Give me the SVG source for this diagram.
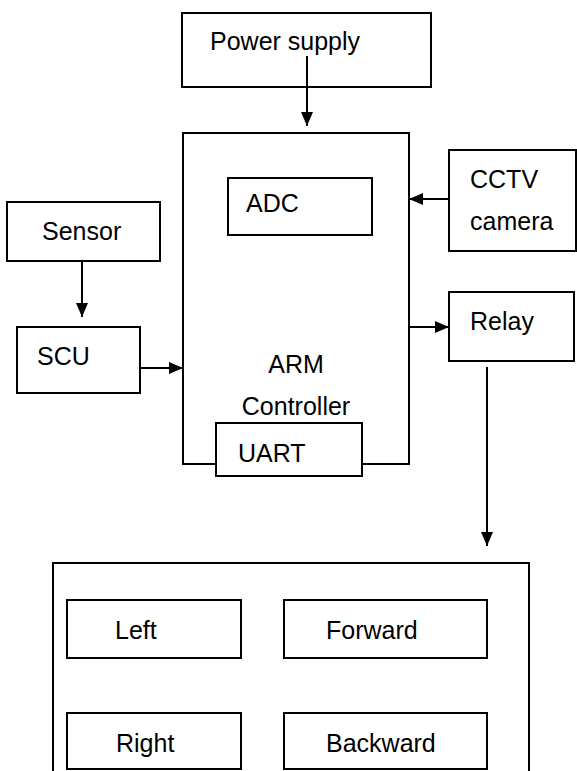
<svg xmlns="http://www.w3.org/2000/svg" width="577" height="771" viewBox="0 0 577 771">
<style>
.b{fill:#fff;stroke:#000;stroke-width:2}
.t{font-family:"Liberation Sans",Arial,sans-serif;font-size:25px;fill:#000}
.c{stroke:#000;stroke-width:2;fill:none}
</style>
<defs>
<marker id="ah" viewBox="0 0 14 12" refX="14" refY="6" markerWidth="14" markerHeight="12" markerUnits="userSpaceOnUse" orient="auto">
<path d="M0,0 L14,6 L0,12 Z" fill="#000"/>
</marker>
</defs>
<rect width="577" height="771" fill="#fff"/>
<g id="power"><rect class="b" x="182" y="13" width="249" height="74"/><text class="t" x="210" y="50">Power supply</text></g>
<g id="arm"><rect class="b" x="183" y="133" width="226" height="331"/><text class="t" x="296" y="373" text-anchor="middle">ARM</text><text class="t" x="296" y="415" text-anchor="middle">Controller</text></g>
<g id="adc"><rect class="b" x="228" y="178" width="144" height="57"/><text class="t" x="246" y="212">ADC</text></g>
<g id="uart"><rect class="b" x="216" y="423" width="146" height="53"/><text class="t" x="238" y="462">UART</text></g>
<g id="sensor"><rect class="b" x="7" y="202" width="153" height="59"/><text class="t" x="42" y="240">Sensor</text></g>
<g id="scu"><rect class="b" x="17" y="327" width="123" height="66"/><text class="t" x="37" y="365">SCU</text></g>
<g id="cctv"><rect class="b" x="449" y="150" width="127" height="101"/><text class="t" x="470" y="188">CCTV</text><text class="t" x="470" y="230">camera</text></g>
<g id="relay"><rect class="b" x="449" y="292" width="125" height="69"/><text class="t" x="470" y="330">Relay</text></g>
<g id="motors"><rect class="b" x="53" y="563" width="476" height="220"/></g>
<g id="left"><rect class="b" x="67" y="600" width="174" height="58"/><text class="t" x="115" y="639">Left</text></g>
<g id="forward"><rect class="b" x="284" y="600" width="203" height="58"/><text class="t" x="326" y="639">Forward</text></g>
<g id="right"><rect class="b" x="67" y="713" width="174" height="56"/><text class="t" x="116" y="752">Right</text></g>
<g id="backward"><rect class="b" x="284" y="713" width="203" height="56"/><text class="t" x="326" y="752">Backward</text></g>
<g id="connectors">
<line class="c" x1="307" y1="56" x2="307" y2="126" marker-end="url(#ah)"/>
<line class="c" x1="82" y1="261" x2="82" y2="317" marker-end="url(#ah)"/>
<line class="c" x1="140" y1="368" x2="183" y2="368" marker-end="url(#ah)"/>
<line class="c" x1="449" y1="199" x2="409" y2="199" marker-end="url(#ah)"/>
<line class="c" x1="409" y1="327" x2="449" y2="327" marker-end="url(#ah)"/>
<line class="c" x1="487" y1="367" x2="487" y2="546" marker-end="url(#ah)"/>
</g>
</svg>
